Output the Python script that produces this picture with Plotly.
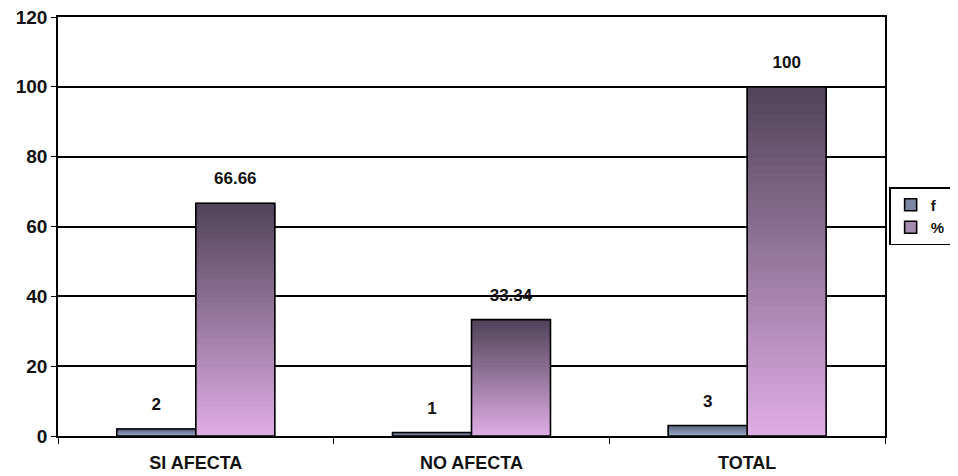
import plotly.graph_objects as go

categories = ["SI AFECTA", "NO AFECTA", "TOTAL"]
f_values = [2, 1, 3]
pct_values = [66.66, 33.34, 100]
pct_labels = ["66.66", "33.34", "100"]
f_labels = ["2", "1", "3"]
y_ticks = [0, 20, 40, 60, 80, 100, 120]

N = 40  # gradient slices


def lerp(c1, c2, t):
    return "rgb(%d,%d,%d)" % tuple(round(a + (b - a) * t) for a, b in zip(c1, c2))


series = [
    ("f", f_values, f_labels, (165, 175, 205), (95, 105, 135), (125, 135, 165)),
    ("%", pct_values, pct_labels, (222, 172, 228), (82, 68, 90), (165, 140, 175)),
]

FONT = "Liberation Sans"

fig = go.Figure()
for name, vals, labels, c_bot, c_top, c_mid in series:
    # gradient slices
    for k in range(N):
        t = k / (N - 1)
        col = lerp(c_bot, c_top, t)
        fig.add_trace(go.Bar(
            x=categories, y=[v / N for v in vals], base=[v * k / N for v in vals],
            offsetgroup=name, marker=dict(color=col, line=dict(color=col, width=1)),
            showlegend=False, hoverinfo="skip",
        ))
    # outline
    fig.add_trace(go.Bar(
        x=categories, y=vals, offsetgroup=name, name=name, showlegend=False,
        marker=dict(color="rgba(0,0,0,0)", line=dict(color="black", width=1.6)),
    ))
    # legend entry
    fig.add_trace(go.Bar(
        x=categories, y=[None] * len(vals), offsetgroup=name, name=name,
        marker=dict(color=lerp(c_mid, c_mid, 0), line=dict(color="black", width=1.6)),
    ))

# value labels, aligned with the bar groups
for name, vals, labels, *_ in series:
    fig.add_trace(go.Scatter(
        x=categories, y=vals, text=labels, mode="markers+text", offsetgroup=name,
        textposition="top center", cliponaxis=False, showlegend=False, hoverinfo="skip",
        marker=dict(size=22, color="rgba(0,0,0,0)"),
        textfont=dict(family=FONT, size=17, color="#111", weight="bold"),
    ))

fig.update_layout(
    width=950, height=468,
    margin=dict(l=50, r=73, t=9, b=40, autoexpand=False),
    paper_bgcolor="white", plot_bgcolor="white",
    barmode="group", bargap=0.427, bargroupgap=0,
    scattermode="group", scattergap=0.427,
    font=dict(family=FONT, size=17, color="#111"),
    showlegend=True,
    legend=dict(x=1.005, xanchor="left", y=0.525, yanchor="middle",
                bordercolor="black", borderwidth=1.5, bgcolor="white",
                font=dict(family=FONT, size=15, color="#111", weight="bold"),
                tracegroupgap=2, itemwidth=30),
    xaxis=dict(showline=True, linecolor="black", linewidth=1.6, mirror=True,
               ticks="outside", tickson="boundaries", ticklen=6, tickcolor="black",
               ticklabelstandoff=10,
               tickfont=dict(family=FONT, size=18, color="#111", weight="bold"),
               showgrid=False),
    yaxis=dict(range=[0, 120], tickvals=y_ticks, showline=True, linecolor="black", linewidth=1.6,
               mirror=True, ticks="outside", ticklen=5, tickcolor="black",
               ticklabeloverflow="allow",
               showgrid=True, gridcolor="black", gridwidth=1.5, zeroline=False,
               tickfont=dict(family=FONT, size=19, color="#111", weight="bold")),
)

fig.write_html("out.html")
